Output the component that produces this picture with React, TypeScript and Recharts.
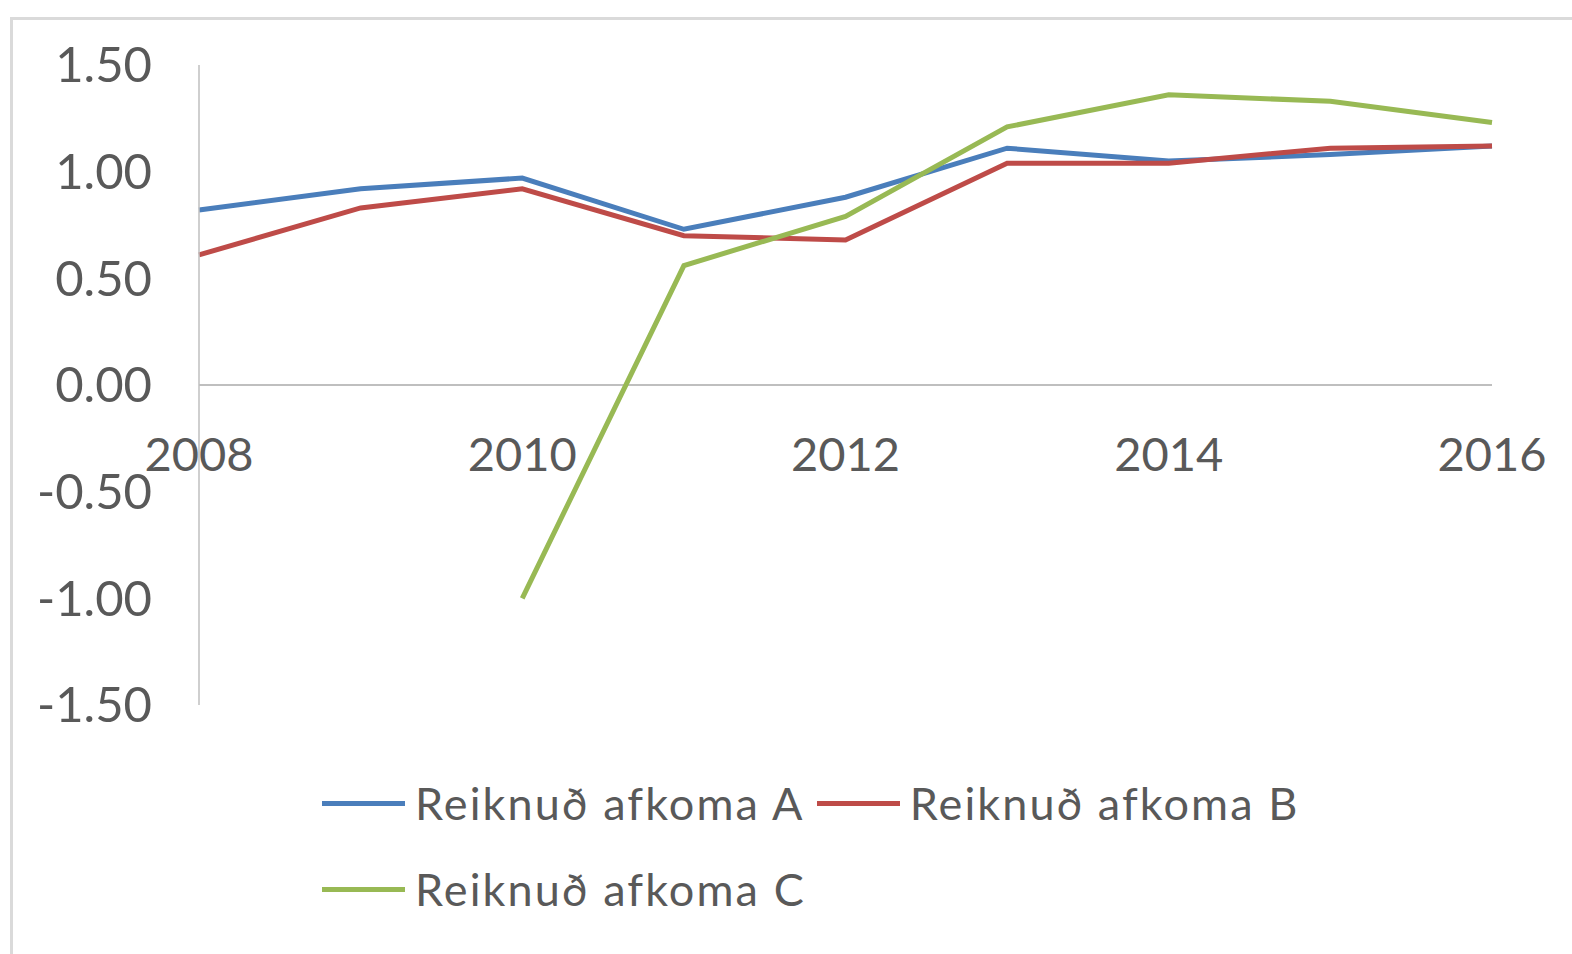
import React from 'react';
import { LineChart, Line, XAxis, YAxis, ReferenceLine, Legend } from 'recharts';

// years on the category axis
const years = [2008, 2009, 2010, 2011, 2012, 2013, 2014, 2015, 2016];
const afkomaA = [0.82, 0.92, 0.97, 0.73, 0.88, 1.11, 1.05, 1.08, 1.12];
const afkomaB = [0.61, 0.83, 0.92, 0.7, 0.68, 1.04, 1.04, 1.11, 1.12];
const afkomaC = [null, null, -1.0, 0.56, 0.79, 1.21, 1.36, 1.33, 1.23];

const xTicks = [2008, 2010, 2012, 2014, 2016];
const yTicks = [-1.5, -1.0, -0.5, 0, 0.5, 1.0, 1.5];

const seriesKeys = ['a', 'b', 'c'];
const seriesNames = ['Reiknuð afkoma A', 'Reiknuð afkoma B', 'Reiknuð afkoma C'];
const seriesColors = ['#4A7EBB', '#BE4B48', '#98B954'];

const data = years.map((year, i) => ({
  year,
  a: afkomaA[i],
  b: afkomaB[i],
  c: afkomaC[i],
}));

const FONT = 'Lato, "Open Sans", sans-serif';
const TEXT = '#595959';
const AXIS = '#BFBFBF';

const W = 1572;
const H = 954;
const X_AXIS_H = 30;
const MARGIN = { top: 65, right: 80, bottom: 249 - X_AXIS_H, left: 39 };
const Y_AXIS_W = 160;
const PLOT_H = H - 65 - 249;

// x labels sit under the zero line, not at the bottom of the plot
const XTick = (props: any) => {
  const { x, y, payload } = props;
  return (
    <text
      x={x}
      y={y - PLOT_H / 2 + 68}
      textAnchor="middle"
      dominantBaseline="central"
      fill={TEXT}
      fontSize={47}
      fontFamily={FONT}
    >
      {payload.value}
    </text>
  );
};

const LegendBox = () => (
  <div
    style={{
      paddingLeft: 322,
      width: 1000,
      display: 'flex',
      flexWrap: 'wrap',
      fontFamily: FONT,
    }}
  >
    {seriesNames.map((name, i) => (
      <div
        key={name}
        style={{ display: 'flex', alignItems: 'center', height: 86, marginRight: 12 }}
      >
        <span
          style={{
            display: 'inline-block',
            width: 83,
            height: 5,
            background: seriesColors[i],
            marginRight: 10,
          }}
        />
        <span style={{ fontSize: 45, letterSpacing: 2.1, color: TEXT, whiteSpace: 'nowrap' }}>
          {name}
        </span>
      </div>
    ))}
  </div>
);

export default function App() {
  return (
    <div style={{ position: 'relative', width: W, height: H, overflow: 'hidden', background: '#fff' }}>
      <style>{'body{margin:0;overflow:hidden;background:#fff}'}</style>
      <div
        style={{
          position: 'absolute',
          left: 10,
          top: 17,
          width: 1700,
          height: 1100,
          borderTop: '3px solid #DADADA',
          borderLeft: '3px solid #DADADA',
        }}
      />
      <div style={{ position: 'absolute', left: 0, top: 0 }}>
        <LineChart width={W} height={H} data={data} margin={MARGIN}>
          <XAxis
            dataKey="year"
            type="number"
            domain={[2008, 2016]}
            ticks={xTicks}
            interval={0}
            axisLine={false}
            tickLine={false}
            tickSize={0}
            tickMargin={0}
            height={X_AXIS_H}
            tick={<XTick />}
          />
          <YAxis
            type="number"
            domain={[-1.5, 1.5]}
            ticks={yTicks}
            interval={0}
            width={Y_AXIS_W}
            tickFormatter={(v: number) => v.toFixed(2)}
            axisLine={{ stroke: AXIS, strokeWidth: 1.5 }}
            tickLine={false}
            tickMargin={41}
            tick={{ fill: TEXT, fontSize: 49, fontFamily: FONT }}
          />
          <ReferenceLine y={0} stroke={AXIS} strokeWidth={2} />
          {seriesKeys.map((k, i) => (
            <Line
              key={k}
              type="linear"
              dataKey={k}
              name={seriesNames[i]}
              stroke={seriesColors[i]}
              strokeWidth={5}
              dot={false}
              connectNulls={false}
              isAnimationActive={false}
            />
          ))}
          <Legend
            verticalAlign="middle"
            layout="horizontal"
            wrapperStyle={{ left: 0, top: 760, width: W }}
            content={<LegendBox />}
          />
        </LineChart>
      </div>
    </div>
  );
}
